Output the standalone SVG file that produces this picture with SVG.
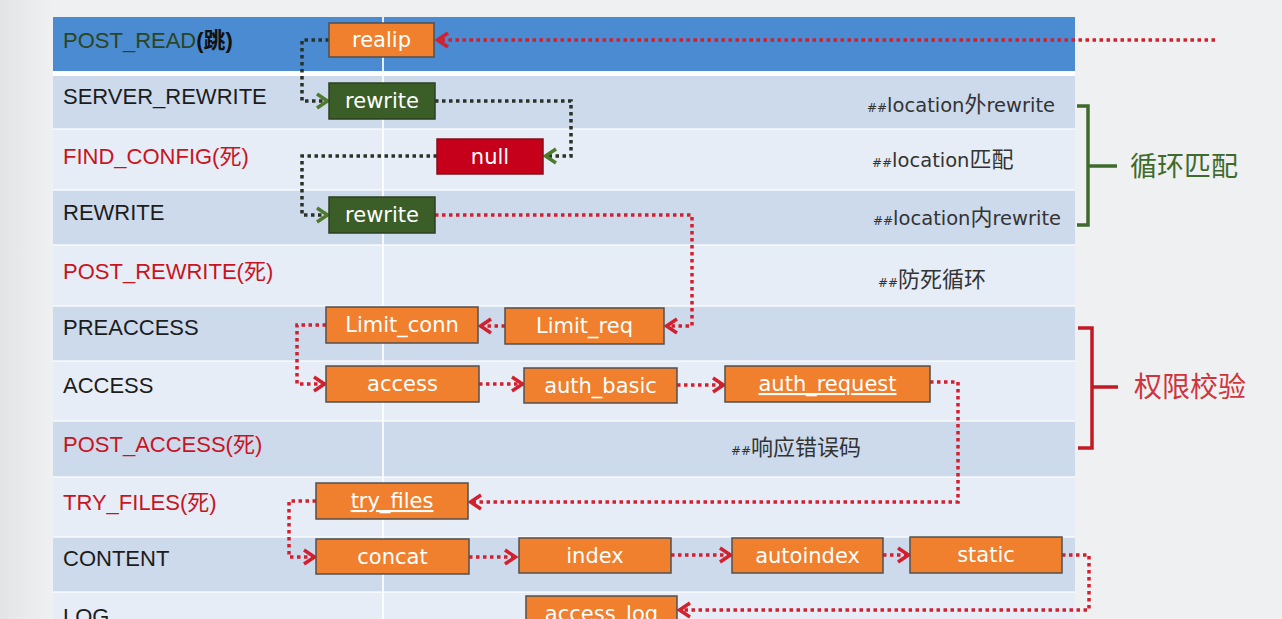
<svg xmlns="http://www.w3.org/2000/svg" width="1282" height="619" viewBox="0 0 1282 619">
<defs>
<marker id="ar" markerUnits="userSpaceOnUse" markerWidth="16" markerHeight="18" refX="13" refY="9" orient="auto" overflow="visible">
<path d="M2,2 L12.5,9 L2,16" fill="none" stroke="#d3202e" stroke-width="3.5" stroke-linejoin="miter"/>
</marker>
<marker id="ag" markerUnits="userSpaceOnUse" markerWidth="16" markerHeight="18" refX="13" refY="9" orient="auto" overflow="visible">
<path d="M2,2 L12.5,9 L2,16" fill="none" stroke="#4e7a2e" stroke-width="3.5" stroke-linejoin="miter"/>
</marker>
<linearGradient id="bg" x1="0" y1="0" x2="1" y2="0">
<stop offset="0" stop-color="#e2e4e6"/>
<stop offset="0.04" stop-color="#eef0f2"/>
<stop offset="1" stop-color="#eef0f1"/>
</linearGradient>
</defs>
<style>
.lbl{font-family:"Liberation Sans","Noto Sans CJK SC",sans-serif;font-size:22px;}
.k{fill:#1c1c1c;}
.rd{fill:#c8141e;}
.nt{font-family:"DejaVu Sans","Noto Sans CJK SC",sans-serif;font-size:21px;fill:#ffffff;text-anchor:middle;}
.ann{font-family:"DejaVu Sans","Noto Sans CJK SC",sans-serif;font-size:19.5px;fill:#333333;}
.hh{font-size:12px;}
.cj{font-family:"Noto Sans CJK SC",sans-serif;font-size:22px;}
.bo{fill:#f07f2e;stroke:#505050;stroke-width:1.5;}
.bg{fill:#3b5e28;stroke:#2c3f22;stroke-width:1.5;}
.bn{fill:#c6001a;stroke:#80101a;stroke-width:1.5;}
.r{fill:none;stroke:#d3202e;stroke-width:3.5;stroke-dasharray:3.5 3.5;marker-end:url(#ar);}
.g{fill:none;stroke:#2a3228;stroke-width:3.5;stroke-dasharray:3.5 3.5;marker-end:url(#ag);}
.dk{fill:#cddaec;}
.lt{fill:#e6edf6;}
</style>
<rect x="0" y="0" width="1282" height="619" fill="url(#bg)"/>
<g id="table">
<rect x="53" y="17" width="1022" height="54" fill="#4a8bd1"/>
<rect x="53" y="71" width="1022" height="5" fill="#ffffff"/>
<rect class="dk" x="53" y="76" width="1022" height="53"/>
<rect class="lt" x="53" y="129" width="1022" height="61"/>
<rect class="dk" x="53" y="190" width="1022" height="55"/>
<rect class="lt" x="53" y="245" width="1022" height="61"/>
<rect class="dk" x="53" y="306" width="1022" height="55"/>
<rect class="lt" x="53" y="361" width="1022" height="60"/>
<rect class="dk" x="53" y="421" width="1022" height="56"/>
<rect class="lt" x="53" y="477" width="1022" height="60"/>
<rect class="dk" x="53" y="537" width="1022" height="55"/>
<rect class="lt" x="53" y="592" width="1022" height="27"/>
<g stroke="#ffffff" stroke-width="1.5" opacity="0.8">
<line x1="53" y1="129" x2="1075" y2="129"/>
<line x1="53" y1="190" x2="1075" y2="190"/>
<line x1="53" y1="245" x2="1075" y2="245"/>
<line x1="53" y1="306" x2="1075" y2="306"/>
<line x1="53" y1="361" x2="1075" y2="361"/>
<line x1="53" y1="421" x2="1075" y2="421"/>
<line x1="53" y1="477" x2="1075" y2="477"/>
<line x1="53" y1="537" x2="1075" y2="537"/>
<line x1="53" y1="592" x2="1075" y2="592"/>
</g>
<line x1="383" y1="17" x2="383" y2="619" stroke="#ffffff" stroke-width="2" opacity="0.85"/>
</g>
<g id="labels">
<text class="lbl" x="63" y="48"><tspan fill="#2c4520">POST_READ</tspan><tspan fill="#111111" font-weight="bold">(跳)</tspan></text>
<text class="lbl k" x="63" y="104">SERVER_REWRITE</text>
<text class="lbl rd" x="63" y="164">FIND_CONFIG(死)</text>
<text class="lbl k" x="63" y="220">REWRITE</text>
<text class="lbl rd" x="63" y="279">POST_REWRITE(死)</text>
<text class="lbl k" x="63" y="335">PREACCESS</text>
<text class="lbl k" x="63" y="393">ACCESS</text>
<text class="lbl rd" x="63" y="452">POST_ACCESS(死)</text>
<text class="lbl rd" x="63" y="510">TRY_FILES(死)</text>
<text class="lbl k" x="63" y="566">CONTENT</text>
<text class="lbl k" x="63" y="624">LOG</text>
</g>
<g id="annotations">
<text class="ann" x="867" y="112"><tspan class="hh">##</tspan>location<tspan class="cj">外</tspan>rewrite</text>
<text class="ann" x="872" y="167"><tspan class="hh">##</tspan>location<tspan class="cj">匹配</tspan></text>
<text class="ann" x="873" y="225"><tspan class="hh">##</tspan>location<tspan class="cj">内</tspan>rewrite</text>
<text class="ann" x="878" y="287"><tspan class="hh">##</tspan><tspan class="cj">防死循环</tspan></text>
<text class="ann" x="731" y="455"><tspan class="hh">##</tspan><tspan class="cj">响应错误码</tspan></text>
</g>
<g id="connectors">
<path class="r" d="M1215,40 H437"/>
<path class="g" d="M329,40 H302 V101 H328"/>
<path class="g" d="M435,101 H571 V156 H545"/>
<path class="g" d="M437,156 H302 V215 H328"/>
<path class="r" d="M435,215 H692 V326 H666"/>
<path class="r" d="M505,326 H480"/>
<path class="r" d="M326,325 H297 V384 H325"/>
<path class="r" d="M479,384 H523"/>
<path class="r" d="M677,385 H724"/>
<path class="r" d="M930,382 H958 V502 H470"/>
<path class="r" d="M316,501 H289 V557 H315"/>
<path class="r" d="M469,557 H516"/>
<path class="r" d="M671,555 H731"/>
<path class="r" d="M883,555 H909"/>
<path class="r" d="M1062,555 H1089 V610 H679"/>
</g>
<g id="n-realip"><rect class="bo" x="329" y="23" width="105" height="34"/><text class="nt" x="381.5" y="47">realip</text></g>
<g id="n-rewrite1"><rect class="bg" x="329" y="83" width="106" height="36"/><text class="nt" x="382" y="108">rewrite</text></g>
<g id="n-null"><rect class="bn" x="437" y="139" width="106" height="35"/><text class="nt" x="490" y="164">null</text></g>
<g id="n-rewrite2"><rect class="bg" x="329" y="197" width="106" height="36"/><text class="nt" x="382" y="222">rewrite</text></g>
<g id="n-limit-conn"><rect class="bo" x="326" y="307" width="152" height="36"/><text class="nt" x="402" y="332">Limit_conn</text></g>
<g id="n-limit-req"><rect class="bo" x="505" y="308" width="159" height="36"/><text class="nt" x="584.5" y="333">Limit_req</text></g>
<g id="n-access"><rect class="bo" x="326" y="366" width="153" height="36"/><text class="nt" x="402.5" y="391">access</text></g>
<g id="n-auth-basic"><rect class="bo" x="524" y="368" width="153" height="35"/><text class="nt" x="600.5" y="393">auth_basic</text></g>
<g id="n-auth-request"><rect class="bo" x="725" y="366" width="205" height="36"/><text class="nt" x="827.5" y="391" text-decoration="underline">auth_request</text></g>
<g id="n-try-files"><rect class="bo" x="316" y="483" width="152" height="36"/><text class="nt" x="392" y="508" text-decoration="underline">try_files</text></g>
<g id="n-concat"><rect class="bo" x="316" y="539" width="153" height="35"/><text class="nt" x="392.5" y="564">concat</text></g>
<g id="n-index"><rect class="bo" x="519" y="538" width="152" height="35"/><text class="nt" x="595" y="563">index</text></g>
<g id="n-autoindex"><rect class="bo" x="732" y="538" width="151" height="35"/><text class="nt" x="807.5" y="563">autoindex</text></g>
<g id="n-static"><rect class="bo" x="910" y="537" width="152" height="36"/><text class="nt" x="986" y="562">static</text></g>
<g id="n-access-log"><rect class="bo" x="526" y="596" width="151" height="36"/><text class="nt" x="601.5" y="621">access_log</text></g>
<g id="bracket-loop">
<path d="M1077,106 H1088 V225 H1077 M1088,166 H1117" fill="none" stroke="#3e6a2c" stroke-width="3.5"/>
<text x="1130" y="176" font-family="Noto Sans CJK SC, sans-serif" font-size="27" fill="#3e6a2c">循环匹配</text>
</g>
<g id="bracket-auth">
<path d="M1078,328 H1092 V448 H1078 M1092,387 H1118" fill="none" stroke="#c21a24" stroke-width="3.5"/>
<text x="1134" y="397" font-family="Noto Sans CJK SC, sans-serif" font-size="28" fill="#d0343c">权限校验</text>
</g>
</svg>
